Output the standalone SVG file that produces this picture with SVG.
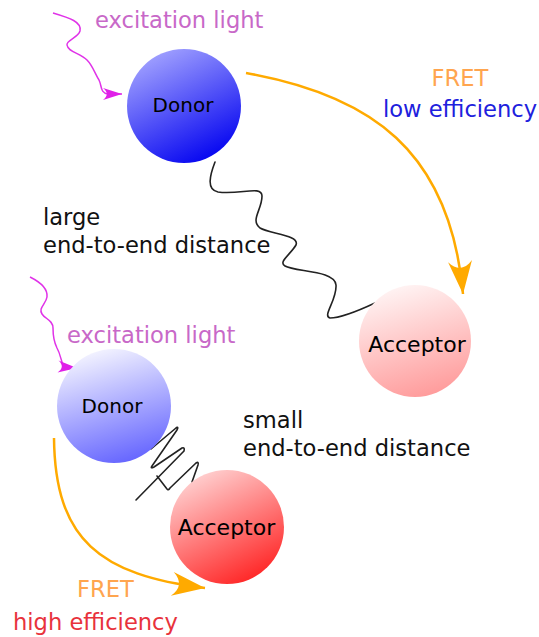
<svg xmlns="http://www.w3.org/2000/svg" width="539" height="637" viewBox="0 0 539 637">
<style>
text{font-family:"DejaVu Sans","Liberation Sans",sans-serif;}
.lbl{font-size:22.6px;}
.node{font-size:20px;fill:#000;text-anchor:middle;}
.acc{font-size:22px;}
.exc{fill:#c868c8;}
.fret{fill:#ffa54f;}
.dark{fill:#111;}
.light{fill:none;stroke:#e033e8;stroke-width:1.5;}
.orange{fill:none;stroke:#ffaa00;stroke-width:2.5;}
.linker{fill:none;stroke:#222;stroke-width:1.6;stroke-linejoin:round;stroke-linecap:round;}
</style>
<defs>
<linearGradient id="gD1" x1="0.25" y1="0" x2="0.75" y2="1"><stop offset="0" stop-color="#a4a4ff"/><stop offset="1" stop-color="#0000f0"/></linearGradient>
<linearGradient id="gA1" x1="0.35" y1="0" x2="0.65" y2="1"><stop offset="0" stop-color="#fff4f4"/><stop offset="1" stop-color="#ff9a9a"/></linearGradient>
<linearGradient id="gD2" x1="0.35" y1="0" x2="0.65" y2="1"><stop offset="0" stop-color="#f4f4ff"/><stop offset="1" stop-color="#6464ff"/></linearGradient>
<linearGradient id="gA2" x1="0.25" y1="0" x2="0.75" y2="1"><stop offset="0" stop-color="#ffd4d4"/><stop offset="1" stop-color="#ff2020"/></linearGradient>
<marker id="arO" markerUnits="userSpaceOnUse" viewBox="-20 -13 38 26" refX="17" refY="0" markerWidth="38" markerHeight="26" orient="auto">
<path d="M17,0 L-16,-12 C-7,-4 -7,4 -16,12 Z" fill="#ffaa00"/>
</marker>
<marker id="arM" markerUnits="userSpaceOnUse" viewBox="-11 -7 21 14" refX="9" refY="0" markerWidth="21" markerHeight="14" orient="auto">
<path d="M9,0 L-10,-6 C-5,-2 -5,2 -10,6 Z" fill="#e020e8"/>
</marker>
</defs>

<g id="connectors">
<path class="light" d="M53,13 C70,18 82,22 80,31 C78,38 66,40 67,45 C68,52 80,53 87,60 C93,66 95,74 99,80 C102,86 100,93 108,94 L122,94" marker-end="url(#arM)"/>
<path class="orange" d="M246,73 C370,95 450,150 463,294" marker-end="url(#arO)"/>
<path class="linker" d="M215,162 C210,175 206,190 218,192 C240,195 262,185 262,196 C262,210 250,220 260,228 C270,234 300,235 296,245 C290,255 278,262 285,266 C295,272 335,270 336,285 C337,300 322,316 330,318 C340,318 360,310 375,303"/>
<path class="light" d="M30,277 C40,282 48,289 47,297 C46,304 38,308 42,314 C45,319 53,320 53,328 C53,336 54,342 57,348 C61,355 61,362 64,367 L77,368" marker-end="url(#arM)"/>
<path class="orange" d="M54,438 C55,540 100,575 205,588" marker-end="url(#arO)"/>
<path class="linker" d="M151,449 L176,428 Q179,426 177,430 L152,466 Q150,469 154,467 L182,448 Q185,447 184,451 L136,500 M157,476 L167,489 Q168,491 170,488 L196,463 Q199,461 198,465 L192,482"/>
</g>

<g id="donor-top">
<circle cx="184" cy="106" r="57" fill="url(#gD1)"/>
<text class="node" x="183" y="112">Donor</text>
</g>
<g id="acceptor-top">
<circle cx="415" cy="341" r="56" fill="url(#gA1)"/>
<text class="node acc" x="417" y="352">Acceptor</text>
</g>
<g id="donor-bottom">
<circle cx="114" cy="406" r="57" fill="url(#gD2)"/>
<text class="node" x="112" y="413">Donor</text>
</g>
<g id="acceptor-bottom">
<circle cx="227" cy="527" r="57" fill="url(#gA2)"/>
<text class="node acc" x="226.5" y="535">Acceptor</text>
</g>

<g id="labels">
<text class="lbl exc" x="95" y="28">excitation light</text>
<text class="lbl fret" x="460" y="86" text-anchor="middle">FRET</text>
<text class="lbl" x="460" y="117" text-anchor="middle" fill="#2020dd">low efficiency</text>
<text class="lbl dark" x="43" y="225">large</text>
<text class="lbl dark" x="43" y="253">end-to-end distance</text>
<text class="lbl exc" x="67" y="343">excitation light</text>
<text class="lbl dark" x="243" y="428">small</text>
<text class="lbl dark" x="243" y="456">end-to-end distance</text>
<text class="lbl fret" x="77" y="597">FRET</text>
<text class="lbl" x="13" y="630" fill="#e8323c">high efficiency</text>
</g>
</svg>
